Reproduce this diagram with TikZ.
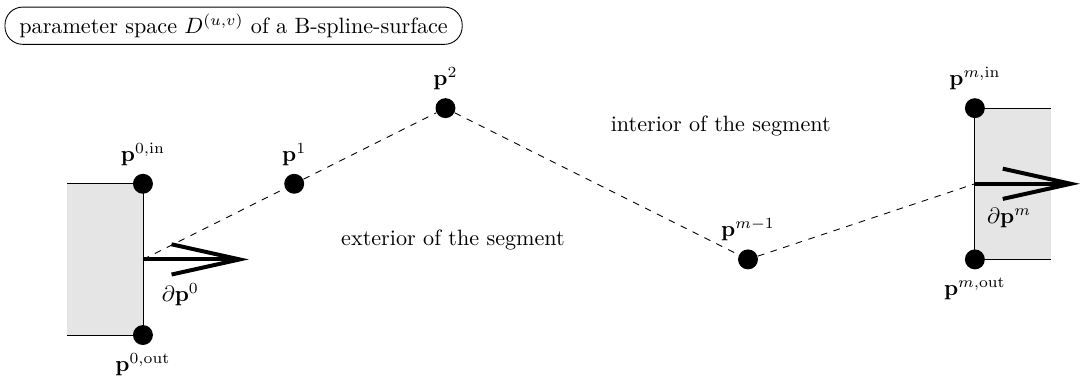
\documentclass[tikz,border=0pt]{standalone}
\usepackage{amsmath,amssymb}
\usetikzlibrary{arrows.meta,positioning}
\definecolor{segfill}{RGB}{229,229,229}

\begin{document}
\begin{tikzpicture}[x=1.2cm,y=1.2cm,
  dot/.style={circle,fill=black,inner sep=0pt,minimum size=9pt},
  bdarrow/.style={-{Straight Barb[length=10.8mm,width=4.8mm]},line width=1.8pt},
  lab/.style={label distance=4.5pt},
  labb/.style={label distance=2.3pt}]
  \useasboundingbox (-1.89,-2.66) rectangle (12.39,2.43);
  % gray half-planes beyond the two ends
  \fill[segfill] (-1,-2) rectangle (0,0);
  \fill[segfill] (11,-1) rectangle (12,1);
  \node[draw,rounded corners=8pt,inner xsep=6.5pt,inner ysep=3pt,anchor=west] (title) at (-1.83,2.09)
    {parameter space $D^{(u,v)}$ of a B-spline-surface};
  % control points
  \node[dot,lab,label={above:$\mathbf{p}^{0,\mathrm{in}}$}] (p0in) at (0,0) {};
  \node[dot,labb,label={below:$\mathbf{p}^{0,\mathrm{out}}$}] (p0out) at (0,-2) {};
  \node[dot,lab,label={above:$\mathbf{p}^{1}$}] (p1) at (2,0) {};
  \node[dot,lab,label={above:$\mathbf{p}^{2}$}] (p2) at (4,1) {};
  \node[dot,lab,label={above:$\mathbf{p}^{m-1}$}] (pm1) at (8,-1) {};
  \node[dot,lab,label={above:$\mathbf{p}^{m,\mathrm{in}}$}] (pmin) at (11,1) {};
  \node[dot,labb,label={below:$\mathbf{p}^{m,\mathrm{out}}$}] (pmout) at (11,-1) {};
  \coordinate (b0) at (0,-1);
  \coordinate (bm) at (11,0);
  \coordinate (e0) at (1.4,-1);
  \coordinate (em) at (12.39,0);
  % boundary edges
  \draw (-1,0) -- (p0in.center) -- (p0out.center) -- (-1,-2);
  \draw (12,1) -- (pmin.center) -- (pmout.center) -- (12,-1);
  \draw[dashed] (b0) -- (p1) -- (p2) -- (pm1) -- (bm);
  \draw[bdarrow] (b0) -- (e0);
  \draw[bdarrow] (bm) -- (em);
  \node[below right=7.5pt and 5pt of b0] (d0) {$\partial\mathbf{p}^{0}$};
  \node[below right=7.5pt and 2pt of bm] (dm) {$\partial\mathbf{p}^{m}$};
  \node (ext) at (4.1,-0.74) {exterior of the segment};
  \node (int) at (7.64,0.76) {interior of the segment};
\end{tikzpicture}
\end{document}
